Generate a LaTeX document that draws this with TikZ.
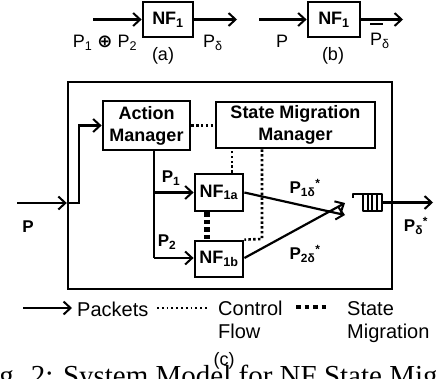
\documentclass[tikz,border=0pt]{standalone}
\usepackage{fontspec}
\setmainfont{Liberation Sans}
\newfontfamily\symfont{DejaVu Sans}
\newfontfamily\capfont{Liberation Serif}
\usetikzlibrary{positioning}
\usetikzlibrary{arrows.meta}

\begin{document}
\begin{tikzpicture}[x=1pt, y=-1pt,
    box/.style={draw, line width=2.8pt, inner sep=0pt, align=center,
        font=\fontsize{18}{22}\selectfont\bfseries},
    pkt/.style={line width=2.2pt,
        -{Straight Barb[length=7pt, width=13pt, line width=2pt]}},
    ctrl/.style={line width=2.6pt, dash pattern=on 2.4pt off 2.4pt},
    mig/.style={line width=6pt, dash pattern=on 4.5pt off 3pt},
    lbl/.style={font=\fontsize{18}{21}\selectfont},
    blbl/.style={font=\fontsize{17}{21}\selectfont\bfseries},
    legend/.style={font=\fontsize{20}{23}\selectfont, align=left, inner sep=0pt}]
    \useasboundingbox (0,0) rectangle (436,378);
    \clip (0,0) rectangle (436,378);

    % (a) one NF, two packet streams
    \node[box, minimum width=50pt, minimum height=35pt] (nfa) at (168,19.5) {NF\textsubscript{1}};
    \coordinate (ina) at (93,19.5);
    \coordinate (outa) at (237,19.5);
    \draw[pkt] (ina) -- (nfa.west);
    \draw[pkt] (nfa.east) -- (outa);
    \node[lbl] (pp) at (105,43) {P\textsubscript{1} {\symfont\bfseries ⊕} P\textsubscript{2}};
    \node[lbl] (pda) at (213,43) {P\textsubscript{δ}};
    \node[lbl] (capa) at (163,56) {(a)};

    % (b)
    \node[box, minimum width=52pt, minimum height=35pt] (nfb) at (334,19.5) {NF\textsubscript{1}};
    \coordinate (inb) at (259,19.5);
    \coordinate (outb) at (403,19.5);
    \draw[pkt] (inb) -- (nfb.west);
    \draw[pkt] (nfb.east) -- (outb);
    \node[lbl] (pb) at (282,41) {P};
    \node[lbl, anchor=base west, inner sep=0pt] (pdb) at (370,45)
        {\makebox[0pt][l]{\raisebox{20pt}{\rule{13pt}{2.2pt}}}P\textsubscript{δ}};
    \node[lbl] (capb) at (333,56) {(b)};

    % (c) system model
    \node[draw, line width=2.4pt, minimum width=324pt, minimum height=207pt, inner sep=0pt] (sys) at (230,185.5) {};
    \node[box, minimum width=87pt, minimum height=49pt] (am) at (146.5,125.5) {Action\\Manager};
    \node[box, minimum width=159pt, minimum height=46pt] (smm) at (295.5,125) {State Migration\\Manager};
    \node[box, minimum width=48pt, minimum height=37pt] (nf1a) at (219,192.5) {NF\textsubscript{1a}};
    \node[box, minimum width=48pt, minimum height=36pt] (nf1b) at (219,259) {NF\textsubscript{1b}};
    \node[minimum width=19pt, minimum height=17pt, inner sep=0pt] (queue) at (372.5,202.5) {};

    \coordinate (inp) at (17,203);
    \coordinate (split) at (154,258);
    \coordinate (outp) at (433,204);
    \coordinate (qin) at (345,209);

    % packets
    \draw[pkt] (inp) -- (sys.west |- inp);
    \draw[pkt] (sys.west |- inp) -- (79,203) |- (am.west);
    \draw[line width=2.2pt] (am.south -| split) -- (split);
    \draw[pkt] (am.south -| split) |- (nf1a.west);
    \draw[pkt] (split) -- (nf1b.west |- split);
    \draw[pkt] (nf1a.east) -- ([yshift=-6pt]qin);
    \draw[pkt] (nf1b.east |- split) -- ([yshift=6pt]qin);
    \draw[pkt] (queue.east) -- (outp |- queue.east);

    % the queue
    \draw[line width=2.4pt, line join=round]
        ([xshift=-10pt]queue.north west) ++(0,4) -- ++(0,-4) -- (queue.north east)
        -- (queue.south east) -- (queue.south west) -- (queue.north west);
    \foreach \dx in {5,9.5,14}
        \draw[line width=2.2pt] ([xshift=\dx pt]queue.north west) -- ([xshift=\dx pt]queue.south west);

    % control flow
    \draw[ctrl] (am.east) -- (smm.west |- am.east);
    \draw[ctrl] (nf1a.north -| 232,0) -- (smm.south -| 232,0);
    \draw[ctrl] (smm.south -| 262,0) -- (262,239) -- (nf1b.north east);

    % state migration
    \draw[mig] (nf1a.south -| 207,0) -- (nf1b.north -| 207,0);

    % labels
    \node[blbl] (p1) at (171,178) {P\textsubscript{1}};
    \node[blbl] (p2) at (167,242) {P\textsubscript{2}};
    \node[blbl] (p1d) at (305,188) {P\textsubscript{1δ}\textsuperscript{*}};
    \node[blbl] (p2d) at (305,254) {P\textsubscript{2δ}\textsuperscript{*}};
    \node[blbl] (pin) at (28,227) {P};
    \node[blbl] (pout) at (416,226) {P\textsubscript{δ}\textsuperscript{*}};

    % legend
    \coordinate (la) at (23,308);
    \coordinate (lb) at (72,308);
    \draw[pkt] (la) -- (lb);
    \node[legend, anchor=west] (lpk) at (77,309) {Packets};
    \coordinate (lc) at (157,308);
    \coordinate (ld) at (207,308);
    \draw[line width=1.8pt, dash pattern=on 1.8pt off 3pt] (lc) -- (ld);
    \node[legend, anchor=north west] (lcf) at (218,301) {Control\\Flow};
    \coordinate (le) at (296,307);
    \coordinate (lf) at (329,307);
    \draw[line width=4.5pt, dash pattern=on 4.5pt off 4pt] (le) -- (lf);
    \node[legend, anchor=north west] (lsm) at (347,301) {State\\Migration};
    \node[lbl] (capc) at (224,361) {(c)};

    % caption, cut by the frame
    \node[anchor=base west, inner sep=0pt, font=\capfont\fontsize{29}{33}\selectfont] (cap) at (-25,385)
        {Fig. 2: System Model for NF State Migration};
\end{tikzpicture}
\end{document}
